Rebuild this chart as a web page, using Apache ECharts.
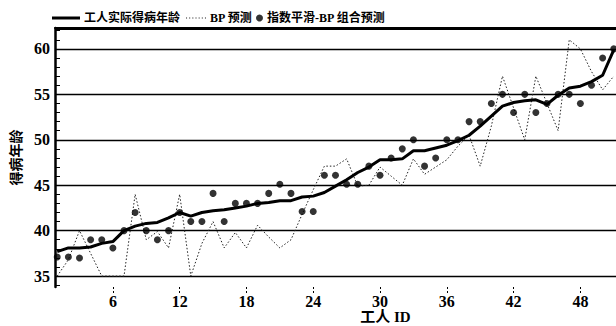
<!DOCTYPE html>
<html>
<head>
<meta charset="utf-8">
<script src="https://cdn.jsdelivr.net/npm/echarts@6/dist/echarts.min.js"></script>
<style>
  html, body { margin: 0; padding: 0; background: #fff; }
  #chart { width: 616px; height: 326px; }
</style>
</head>
<body>
<div id="chart"></div>
<script>
// 工人 ID 1..51
var workerIds = [];
for (var i = 1; i <= 51; i++) workerIds.push(i);

// 工人实际得病年龄
var actualAge = [37.7, 38.1, 38.1, 38.2, 38.6, 38.8, 40.0, 40.5, 40.8, 40.9,
  41.4, 42.0, 41.6, 42.0, 42.2, 42.3, 42.5, 42.7, 43.0, 43.1,
  43.3, 43.3, 43.7, 43.8, 44.2, 44.9, 45.6, 46.4, 47.0, 47.8,
  47.8, 47.9, 48.8, 48.8, 49.1, 49.4, 49.9, 50.5, 51.5, 52.6,
  53.7, 54.1, 54.3, 54.4, 53.9, 54.9, 55.7, 55.9, 56.4, 57.1, 59.9];

// BP 预测
var bpPred = [35.0, 36.8, 40.0, 37.5, 35.0, 35.0, 35.0, 44.0, 39.0, 39.9,
  38.1, 44.0, 35.0, 38.6, 41.0, 38.1, 39.8, 38.1, 40.6, 39.3,
  38.1, 39.0, 41.8, 44.5, 47.1, 47.1, 47.9, 44.9, 45.0, 47.0,
  46.0, 45.0, 47.9, 46.2, 47.0, 47.8, 49.3, 50.5, 47.1, 51.5,
  57.0, 53.5, 50.0, 57.0, 54.0, 51.0, 61.0, 60.0, 57.5, 55.5, 57.0];

// 指数平滑-BP 组合预测
var comboPred = [37.1, 37.1, 37.0, 39.0, 39.0, 38.1, 40.0, 42.0, 40.0, 39.0,
  40.0, 42.0, 41.0, 41.0, 44.1, 41.0, 43.0, 43.0, 43.0, 44.1,
  45.1, 44.1, 42.1, 42.1, 46.1, 46.1, 45.1, 45.1, 47.1, 46.1,
  48.0, 49.0, 50.0, 47.1, 48.0, 50.0, 50.0, 52.0, 52.0, 54.0,
  55.0, 53.0, 55.0, 53.0, 54.0, 55.0, 55.0, 54.0, 56.0, 59.0, 60.0];

var xTicks = [6, 12, 18, 24, 30, 36, 42, 48];
var yTicks = [35, 40, 45, 50, 55, 60];
var yMinorTicks = [];
for (var v = 34; v <= 62; v++) yMinorTicks.push(v);

var Y_MIN = 33.8, Y_MAX = 62.3;
var X_MIN = 0.8, X_MAX = 51.2;

function pairs(arr) {
  return arr.map(function (y, k) { return [workerIds[k], y]; });
}

var numFont = 'Liberation Serif';
var mixFont = '"Liberation Serif", "Noto Sans CJK SC"';
var legendText = { fontSize: 12, fontWeight: 'bold', color: '#000', fontFamily: mixFont, padding: [0, 0, 0, -1] };

// 图例小图标
var solidIcon = 'path://M0,0h28v3h-28z';
var dotIcon = 'path://M0,0h1v1h-1z M3,0h1v1h-1z M6,0h1v1h-1z M9,0h1v1h-1z M12,0h1v1h-1z M15,0h1v1h-1z M18,0h1v1h-1z';

var chart = echarts.init(document.getElementById('chart'), null, { renderer: 'svg' });
var option = {
  animation: false,
  backgroundColor: '#fff',
  textStyle: { fontFamily: mixFont, color: '#000' },
  legend: [
    {
      data: [{ name: '工人实际得病年龄', icon: solidIcon }], left: 47, top: 7,
      itemWidth: 28, itemHeight: 3, itemGap: 0,
      textStyle: legendText
    },
    {
      data: [{ name: 'BP 预测', icon: dotIcon }], left: 181, top: 7,
      itemWidth: 20, itemHeight: 1.2, itemGap: 0,
      textStyle: legendText
    },
    {
      data: [{ name: '指数平滑-BP 组合预测', icon: 'circle' }], left: 251, top: 7,
      itemWidth: 7, itemHeight: 7, itemGap: 0,
      textStyle: legendText
    }
  ],
  grid: {
    left: 55, right: 0, top: 28, bottom: 39,
    containLabel: false,
    outerBoundsMode: 'none'
  },
  xAxis: [
    {
      type: 'value', min: X_MIN, max: X_MAX,
      name: '工人 ID', nameLocation: 'middle', nameGap: 22, nameMoveOverlap: false,
      nameTextStyle: { fontSize: 15, fontWeight: 'bold', color: '#000', fontFamily: mixFont, padding: [0, 0, 0, 100] },
      axisLine: { show: false },
      axisTick: { show: true, customValues: xTicks, length: 7, lineStyle: { color: '#000', type: [2, 2], width: 1 } },
      axisLabel: { customValues: xTicks, margin: 6, fontSize: 16, fontWeight: 'bold', color: '#000', fontFamily: numFont },
      splitLine: { show: false }
    },
    {
      type: 'value', min: X_MIN, max: X_MAX, position: 'top',
      axisLine: { show: true, onZero: false, lineStyle: { color: '#000', width: 2 } },
      axisTick: { show: false },
      axisLabel: { show: false },
      splitLine: { show: false }
    }
  ],
  yAxis: [
    {
      type: 'value', min: Y_MIN, max: Y_MAX,
      name: '得病年龄', nameLocation: 'middle', nameRotate: 90, nameGap: 32,
      nameTextStyle: { fontSize: 14, fontWeight: 'bold', color: '#000', fontFamily: mixFont },
      axisLine: { show: false },
      axisTick: { show: false, customValues: yTicks },
      axisLabel: { customValues: yTicks, margin: 5, fontSize: 16, fontWeight: 'bold', color: '#000', fontFamily: numFont },
      splitLine: { show: true, lineStyle: { color: '#000', width: 1.3 } }
    },
    {
      type: 'value', min: Y_MIN, max: Y_MAX, position: 'left',
      axisLine: { show: true, onZero: false, lineStyle: { color: '#000', width: 2.5 } },
      axisTick: { show: true, inside: true, length: 5, customValues: yMinorTicks, lineStyle: { color: '#000', width: 1 } },
      axisLabel: { show: false },
      splitLine: { show: false }
    }
  ],
  series: [
    {
      name: '工人实际得病年龄',
      type: 'line',
      symbol: 'none',
      data: pairs(actualAge),
      lineStyle: { color: '#000', width: 3 },
      itemStyle: { color: '#000' },
      z: 4,
      // 图框上边线
      markLine: {
        silent: true,
        symbol: 'none',
        label: { show: false },
        lineStyle: { color: '#000', width: 2, type: 'solid' },
        data: [{ yAxis: Y_MAX - 0.1 }]
      }
    },
    {
      name: 'BP 预测',
      type: 'line',
      symbol: 'none',
      data: pairs(bpPred),
      lineStyle: { color: '#222', width: 1, type: [1.5, 2] },
      itemStyle: { color: '#222' },
      z: 3
    },
    {
      name: '指数平滑-BP 组合预测',
      type: 'scatter',
      symbol: 'circle',
      symbolSize: 7,
      data: pairs(comboPred),
      itemStyle: { color: '#000' },
      z: 5
    }
  ]
};
chart.setOption(option);
</script>
</body>
</html>
